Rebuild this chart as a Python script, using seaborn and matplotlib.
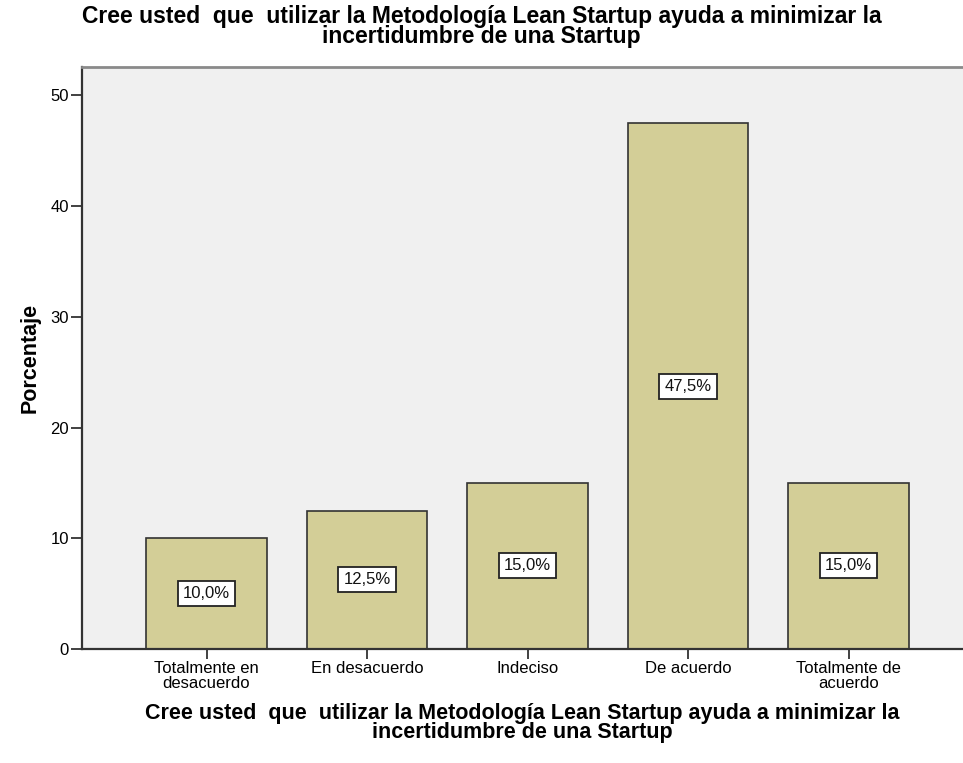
import matplotlib
matplotlib.use("Agg")
import matplotlib.pyplot as plt
import seaborn as sns

# Data
categories = ["Totalmente en\ndesacuerdo", "En desacuerdo", "Indeciso", "De acuerdo", "Totalmente de\nacuerdo"]
porcentajes = [10.0, 12.5, 15.0, 47.5, 15.0]
yticks = [0, 10, 20, 30, 40, 50]

titulo = "Cree usted  que  utilizar la Metodología Lean Startup ayuda a minimizar la\nincertidumbre de una Startup"

sns.set_style("white", {"text.color": "black", "axes.labelcolor": "black",
                        "xtick.color": "black", "ytick.color": "black"})
plt.rcParams["font.family"] = ["Liberation Sans", "DejaVu Sans"]

fig = plt.figure(figsize=(9.63, 7.63), dpi=100)
ax = fig.add_axes([82 / 963, 114 / 763, 1 - 82 / 963, (649 - 67) / 763])
ax.set_facecolor("#F0F0F0")

sns.barplot(x=categories, y=porcentajes, color="#D3CE97", edgecolor="#333333",
            linewidth=1.2, width=0.75, saturation=1, ax=ax)

etiquetas = [f"{v:.1f}".replace(".", ",") + "%" for v in porcentajes]
ax.bar_label(ax.containers[0], labels=etiquetas, label_type="center", fontsize=12, color="#111111",
             bbox=dict(boxstyle="square,pad=0.3", facecolor="white", edgecolor="#222222", linewidth=1.3))

ax.set_xlim(-0.776, 4.713)
ax.set_ylim(0, 52.56)
ax.set_yticks(yticks)
ax.tick_params(axis="y", direction="out", length=8, width=1.3, color="#333333", labelsize=12, pad=1.5, left=True)
ax.tick_params(axis="x", direction="out", length=7, width=1.3, color="#333333", labelsize=12, pad=1.5, bottom=True)
for lbl in ax.get_xticklabels():
    lbl.set_linespacing(1.05)

for s in ["left", "bottom"]:
    ax.spines[s].set_color("#333333")
    ax.spines[s].set_linewidth(1.6)
ax.spines["right"].set_visible(False)
ax.spines["top"].set_color("#8A8A8A")
ax.spines["top"].set_linewidth(2)

ax.set_ylabel("Porcentaje", fontsize=15.5, fontweight="bold", labelpad=7)
ax.set_xlabel(titulo, fontsize=15.5, fontweight="bold", labelpad=8, linespacing=0.88)
ax.set_title(titulo, fontsize=16.5, fontweight="bold", pad=17, linespacing=0.86,
             x=(481.5 - 82) / 881)

fig.savefig("out.png", dpi=100, facecolor="white")
